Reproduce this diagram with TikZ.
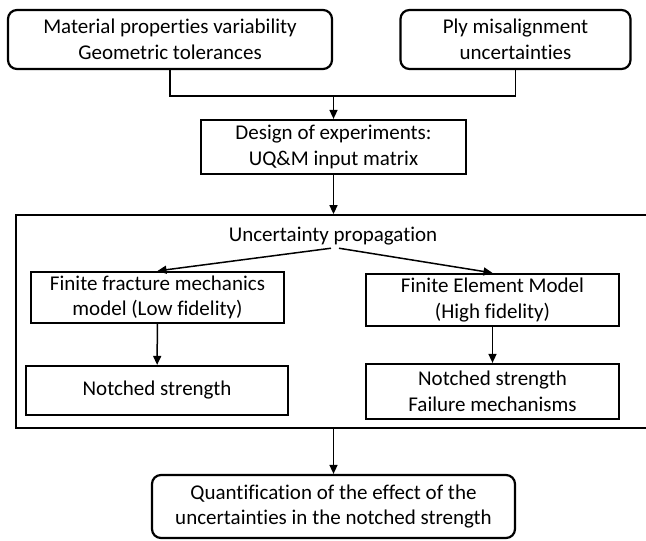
\documentclass[tikz,border=0pt]{standalone}
\usepackage{fontspec}
\setmainfont{Carlito}[Ligatures=NoCommon]
\usepackage{tikz}
\usetikzlibrary{calc,shapes,positioning}
\usetikzlibrary{arrows.meta}
\tikzset{>={Triangle[width=8pt,length=9pt]}}

\begin{document}
\begin{tikzpicture}[x=1pt,y=-1pt]
      \clip (0,0) rectangle (646,541);
      \begin{scope}[font=\fontsize{21}{25.6}\selectfont]
        \tikzstyle{rnode} = [draw=black, line width=2.2pt, rounded corners=9pt, align=center, inner sep=0pt]
        \tikzstyle{bnode} = [draw=black, line width=2.2pt, rectangle, align=center, inner sep=0pt]
        \tikzstyle{upframe} = [draw=black, line width=1.8pt, rectangle, inner sep=0pt]
        \tikzstyle{link} = [->, draw, line width=1.5pt]

        \node[rnode, minimum width=324pt, minimum height=59pt] (matprop) at (170,39.5) {Material properties variability\\Geometric tolerances};
        \node[rnode, minimum width=230pt, minimum height=59pt] (plymis) at (515.5,39.5) {Ply misalignment\\uncertainties};
        \coordinate (join) at (333.5,96);
        \node[bnode, minimum width=265pt, minimum height=54pt] (doe) at (333.5,147) {Design of experiments:\\UQ\&M input matrix};

        \node[upframe, minimum width=636pt, minimum height=213pt] (upbox) at (334,321.5) {};
        \node[inner sep=3pt] (uptext) at (333,236) {Uncertainty propagation};

        \node[bnode, minimum width=253pt, minimum height=51pt] (ffm) at (157.5,297.5) {Finite fracture mechanics\\model (Low fidelity)};
        \node[bnode, minimum width=253pt, minimum height=52pt] (fem) at (492.5,300) {Finite Element Model\\(High fidelity)};
        \node[bnode, minimum width=262pt, minimum height=49pt] (ns1) at (157,390.5) {Notched strength};
        \node[bnode, minimum width=253pt, minimum height=55pt] (ns2) at (492.5,391.5) {Notched strength\\Failure mechanisms};

        \node[rnode, minimum width=363pt, minimum height=63pt] (quant) at (333.5,506.5) {Quantification of the effect of the\\uncertainties in the notched strength};

        \draw[line width=1.5pt] (matprop) |- (join) -| (plymis);
        \draw[link] (join) -- (doe);
        \draw[link] (doe.south) -- (doe.south |- upbox.north);
        \draw[link] ([xshift=-2pt]uptext.south) -- (ffm.north);
        \draw[link] ([xshift=6pt]uptext.south) -- (fem.north);
        \draw[link] (ffm) -- (ns1);
        \draw[link] (fem) -- (ns2);
        \draw[link] (upbox.south -| quant.north) -- (quant.north);
      \end{scope}
\end{tikzpicture}
\end{document}
